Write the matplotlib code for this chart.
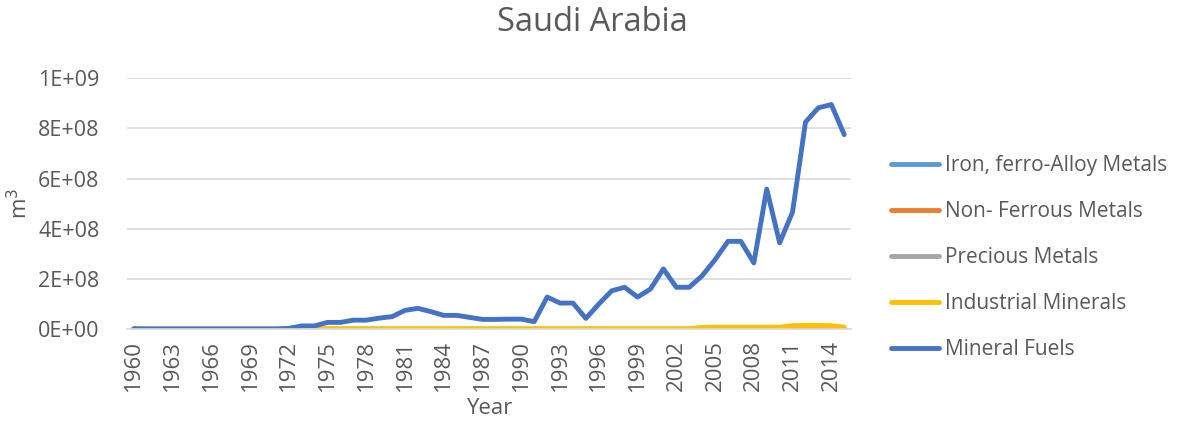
import matplotlib
matplotlib.use("Agg")
import matplotlib.pyplot as plt
from matplotlib.ticker import FuncFormatter
import numpy as np

years = list(range(1960, 2016))

# values (m3)
mineral_fuels = [
    2e6, 1e6, 1e6, 1e6, 1e6, 1e6, 1e6, 1e6, 1e6, 1e6,          # 1960-1969
    1e6, 1e6, 3e6, 1.3e7, 1.3e7, 2.7e7, 2.7e7, 3.6e7, 3.6e7, 4.4e7,  # 1970-1979
    5.0e7, 7.5e7, 8.3e7, 7.0e7, 5.5e7, 5.5e7, 4.7e7, 3.9e7, 3.9e7, 4.0e7,  # 1980-1989
    4.0e7, 3.0e7, 1.28e8, 1.04e8, 1.04e8, 4.3e7, 1.0e8, 1.53e8, 1.67e8, 1.28e8,  # 1990-1999
    1.6e8, 2.4e8, 1.67e8, 1.67e8, 2.13e8, 2.77e8, 3.5e8, 3.5e8, 2.64e8, 5.58e8,  # 2000-2009
    3.44e8, 4.67e8, 8.25e8, 8.82e8, 8.95e8, 7.75e8,  # 2010-2015
]
industrial_minerals = [0] * 15 + [2e6] * 29 + [
    7e6, 8e6, 8e6, 8e6, 8e6, 8e6, 8e6, 1.4e7, 1.5e7, 1.5e7, 1.4e7, 8e6,
]
iron_ferro_alloy = [0] * 50 + [2e6, 3e6, 4e6, 4e6, 3e6, 2e6]
non_ferrous = [0] * 56
precious = [0] * 56

series = [
    ("Iron, ferro-Alloy Metals", iron_ferro_alloy, "#5B9BD5"),
    ("Non- Ferrous Metals", non_ferrous, "#ED7D31"),
    ("Precious Metals", precious, "#A5A5A5"),
    ("Industrial Minerals", industrial_minerals, "#FFC000"),
    ("Mineral Fuels", mineral_fuels, "#4472C4"),
]

plt.rcParams["font.family"] = ["Open Sans", "DejaVu Sans"]
txt = "#595959"

fig = plt.figure(figsize=(11.84, 4.32), dpi=100)
ax = fig.add_axes([0.1075, 0.238, 0.611, 0.581])

x = np.arange(len(years))
for name, vals, col in series:
    ax.plot(x, vals, color=col, lw=3.5, label=name, solid_capstyle="round",
            solid_joinstyle="round")

ax.set_xlim(-0.5, len(years) - 0.5)
ax.set_ylim(0, 1e9)
ax.set_yticks(np.arange(0, 1.01e9, 2e8))
ax.yaxis.set_major_formatter(FuncFormatter(lambda v, p: f"{v:.0E}"))
ax.set_xticks(x[::3])
ax.set_xticklabels([str(y) for y in years[::3]], rotation=90)

ax.grid(axis="y", color="#D9D9D9", lw=1.2)
ax.set_axisbelow(True)
for s in ["top", "right", "left"]:
    ax.spines[s].set_visible(False)
ax.spines["bottom"].set_color("#D9D9D9")
ax.spines["bottom"].set_linewidth(1.2)
ax.tick_params(axis="both", length=0, labelsize=16, colors=txt, pad=8)
ax.tick_params(axis="y", labelsize=15.5, pad=20)

fig.suptitle("Saudi Arabia", fontsize=23.5, color=txt, x=0.5, y=0.947, va="center")
ax.set_xlabel("Year", fontsize=16, color=txt, labelpad=5)
ax.set_ylabel("m$^3$", fontsize=16, color=txt, labelpad=4)

leg = ax.legend(loc="center left", bbox_to_anchor=(1.03, 0.285), frameon=False,
                fontsize=15, handlelength=2.3, labelspacing=1.2,
                handletextpad=0.3)
for t in leg.get_texts():
    t.set_color(txt)

fig.savefig("out.png", dpi=100)
